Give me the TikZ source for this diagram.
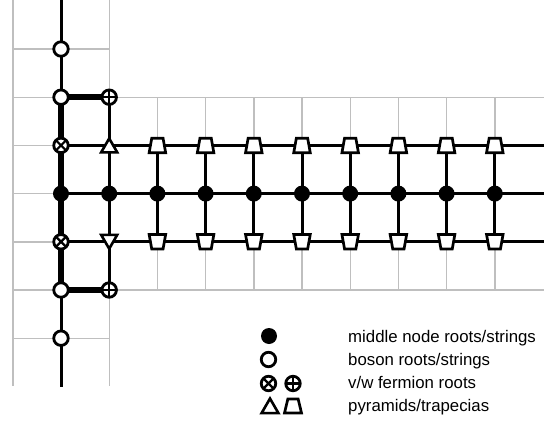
\documentclass[tikz,border=0pt]{standalone}
\usepackage{fontspec}
\setmainfont{Liberation Sans}
\usetikzlibrary{shapes.geometric}
\begin{document}
\begin{tikzpicture}[x=1pt,y=-1pt,
  gridline/.style={draw=black!25, line width=1.4pt},
  wire/.style={draw=black, line width=3pt},
  heavy/.style={draw=black, line width=6.2pt},
  shaft/.style={draw=black, line width=5.6pt},
  boson/.style={circle, draw=black, fill=white, line width=2.8pt, minimum size=14.5pt, inner sep=0pt},
  middot/.style={circle, fill=black, minimum size=16pt, inner sep=0pt},
  otimesnode/.style={boson, path picture={\draw[line width=2.2pt]
      (path picture bounding box.north west) -- (path picture bounding box.south east)
      (path picture bounding box.north east) -- (path picture bounding box.south west);}},
  oplusnode/.style={boson, path picture={\draw[line width=2.2pt]
      (path picture bounding box.north) -- (path picture bounding box.south)
      (path picture bounding box.west) -- (path picture bounding box.east);}},
  pyrup/.style={regular polygon, regular polygon sides=3, draw=black, fill=white,
      line width=2.6pt, minimum size=18.5pt, inner sep=0pt, yshift=-2.3pt},
  trap/.style={trapezium, trapezium stretches=true, trapezium angle=77, draw=black, fill=white,
      line width=2.7pt, minimum width=16.5pt, minimum height=14.5pt, inner sep=0.3pt},
  flip/.style={shape border rotate=180},
  legtext/.style={anchor=base west, inner sep=0pt, font=\fontsize{16.8}{20}\selectfont}
]
\useasboundingbox (0,0) rectangle (544,423);
% grid coordinates
\foreach \i in {0,...,10}{
  \foreach \j in {1,...,8}{
    \coordinate (c-\i-\j) at ({12.8+48.2*\i},{0.8+48.2*\j});
  }
}
\coordinate (top) at (61,0);
\coordinate (bot) at (61,387);
\foreach \j in {2,...,6}{\coordinate (e-\j) at (544,{0.8+48.2*\j});}
\foreach \i in {0,1,2}{\coordinate (g-\i) at ({12.8+48.2*\i},0);}
% light grid
\foreach \i in {0,1,2}{\draw[gridline] (g-\i) -- (c-\i-8);}
\foreach \j in {1,7}{\draw[gridline] (c-0-\j) -- (c-2-\j);}
\foreach \j in {2,...,6}{\draw[gridline] (c-0-\j) -- (e-\j);}
\foreach \i in {3,...,10}{\draw[gridline] (c-\i-2) -- (c-\i-6);}
% wires
\draw[wire] (top) -- (c-1-2);
\draw[heavy] (c-1-2) -- (c-1-6);
\draw[wire] (c-1-6) -- (bot);
\draw[shaft] (c-1-2) -- (c-2-2);
\draw[shaft] (c-1-6) -- (c-2-6);
\draw[wire] (c-2-2) -- (c-2-6);
\foreach \j in {3,4,5}{\draw[wire] (c-1-\j) -- (e-\j);}
\foreach \i in {3,...,10}{\draw[wire] (c-\i-3) -- (c-\i-5);}
% nodes
\foreach \j in {1,2,6,7}{\node[boson] (b-\j) at (c-1-\j) {};}
\node[otimesnode] (x-3) at (c-1-3) {};
\node[otimesnode] (x-5) at (c-1-5) {};
\node[oplusnode] (p-2) at (c-2-2) {};
\node[oplusnode] (p-6) at (c-2-6) {};
\foreach \i in {1,...,10}{\node[middot] (m-\i) at (c-\i-4) {};}
\node[pyrup] (t-up) at (c-2-3) {};
\node[pyrup, shape border rotate=180, yshift=4.6pt] (t-dn) at (c-2-5) {};
\foreach \i in {3,...,10}{
  \node[trap] (u-\i) at (c-\i-3) {};
  \node[trap, flip] (d-\i) at (c-\i-5) {};
}
% legend
\node[middot] (lg-mid) at (269,336) {};
\node[boson] (lg-boson) at (268.5,359.5) {};
\node[otimesnode] (lg-otimes) at (268.5,383.5) {};
\node[oplusnode] (lg-oplus) at (293,383.5) {};
\node[pyrup, minimum size=19.5pt] (lg-pyr) at (270,406) {};
\node[trap, trapezium angle=72, minimum width=17pt, minimum height=14pt] (lg-trap) at (293,406) {};
\node[legtext] (l1) at (348,342) {middle node roots/strings};
\node[legtext] (l2) at (348,365) {boson roots/strings};
\node[legtext] (l3) at (348,388) {v/w fermion roots};
\node[legtext] (l4) at (348,411.5) {pyramids/trapecias};
\end{tikzpicture}
\end{document}
